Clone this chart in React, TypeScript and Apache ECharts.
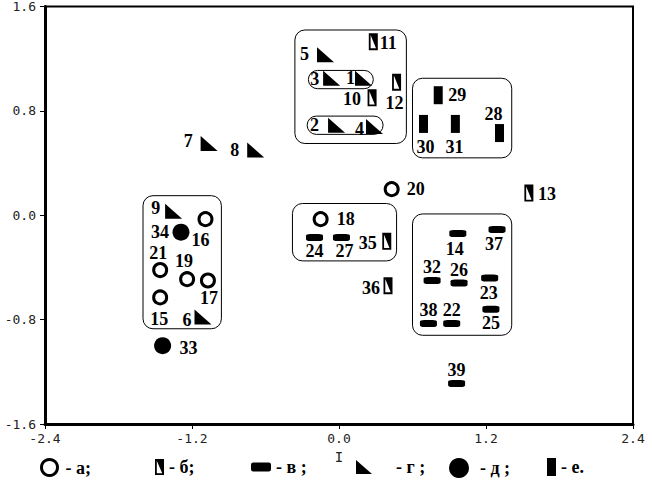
import React, { useEffect, useRef } from "react";
import * as echarts from "echarts";

// ---- data ----
// а : open circles
const A_IDS = ["16", "21", "19", "17", "15", "18", "20"];
const A_X = [-1.09, -1.46, -1.24, -1.07, -1.46, -0.15, 0.43];
const A_Y = [-0.03, -0.42, -0.49, -0.5, -0.63, -0.03, 0.2];
// б : half-filled rectangles
const B_IDS = ["11", "12", "10", "13", "35", "36"];
const B_X = [0.28, 0.47, 0.27, 1.55, 0.39, 0.4];
const B_Y = [1.33, 1.02, 0.9, 0.17, -0.2, -0.54];
// в : horizontal bars
const V_IDS = ["24", "27", "14", "37", "32", "26", "23", "38", "22", "25", "39"];
const V_X = [-0.2, 0.02, 0.97, 1.29, 0.76, 0.98, 1.23, 0.73, 0.92, 1.24, 0.96];
const V_Y = [-0.17, -0.17, -0.14, -0.11, -0.5, -0.52, -0.48, -0.83, -0.83, -0.72, -1.29];
// г : triangles
const G_IDS = ["5", "3", "1", "2", "4", "7", "8", "9", "6"];
const G_X = [-0.11, -0.06, 0.2, -0.02, 0.29, -1.06, -0.68, -1.35, -1.11];
const G_Y = [1.23, 1.05, 1.05, 0.69, 0.68, 0.55, 0.5, 0.03, -0.78];
// д : filled circles
const D_IDS = ["34", "33"];
const D_X = [-1.29, -1.44];
const D_Y = [-0.13, -1.0];
// е : vertical bars
const E_IDS = ["29", "30", "31", "28"];
const E_X = [0.81, 0.69, 0.95, 1.31];
const E_Y = [0.92, 0.7, 0.7, 0.63];

// grouping boxes (data coordinates)
const BOX_X0 = [-0.36, -0.25, -0.26, 0.6, -1.6, -0.38, 0.6];
const BOX_Y0 = [1.42, 1.11, 0.76, 1.05, 0.15, 0.09, 0.01];
const BOX_X1 = [0.55, 0.28, 0.36, 1.41, -0.96, 0.47, 1.41];
const BOX_Y1 = [0.55, 0.97, 0.62, 0.44, -0.87, -0.35, -0.92];

const X_TICKS = [-2.4, -1.2, 0.0, 1.2, 2.4];
const Y_TICKS = [-1.6, -0.8, 0.0, 0.8, 1.6];

// ---- styling ----
const LABEL_OFF: Record<string, [number, number]> = {
  "16": [-5, 21], "21": [-2, -17], "19": [-3, -18], "17": [1, 18], "15": [-1, 22],
  "18": [25, 0], "20": [24, 0],
  "34": [-21, 0], "33": [26, 2],
  "5": [-21, -1], "3": [-17, 1], "1": [-13, 0], "2": [-22, 0], "4": [-15, 2],
  "7": [-21, -2], "8": [-21, 0], "9": [-18, -3], "6": [-16, 3],
  "11": [15, 1], "12": [-2, 21], "10": [-20, 1], "13": [18, 1], "35": [-19, 2], "36": [-17, 2],
  "24": [0, 14], "27": [3, 14], "14": [-3, 15], "37": [-3, 14], "32": [0, -13], "26": [0, -13],
  "23": [-1, 15], "38": [0, -14], "22": [0, -14], "25": [0, 14], "39": [0, -14],
  "29": [19, 0], "30": [2, 23], "31": [-1, 23], "28": [-6, -19],
};

const SYM_B = "path://M0,0L10,0L10,18L0,18Z M2,2L2,16L8,16L8,2Z M2,2L8,2L8,16Z";
const SYM_G = "path://M0,0L0,15L17,15Z";

const SERIF = "'Liberation Serif', 'DejaVu Serif', serif";
const MONO = "'DejaVu Sans Mono', 'Liberation Mono', monospace";

function pts(ids: string[], xs: number[], ys: number[]) {
  return ids.map((id, i) => ({
    name: id,
    value: [xs[i], ys[i]],
    label: { offset: LABEL_OFF[id] || [0, 0] },
  }));
}

const pointLabel = {
  show: true,
  position: "inside",
  formatter: "{b}",
  color: "#000",
  fontFamily: SERIF,
  fontWeight: "bold",
  fontSize: 18,
};

function legendFor(
  name: string,
  icon: string,
  left: number,
  w: number,
  h: number,
  text: string,
  textPadLeft: number,
  itemStyle?: any
) {
  return {
    data: [{ name, icon }],
    left,
    top: 468 - 10,
    padding: 0,
    itemWidth: w,
    itemHeight: h,
    selectedMode: false,
    formatter: () => text,
    itemStyle: itemStyle || { color: "#000", borderWidth: 0 },
    textStyle: {
      fontFamily: SERIF,
      fontWeight: "bold",
      fontSize: 18,
      color: "#000",
      padding: [0, 0, 0, textPadLeft],
    },
  };
}

export default function App() {
  const ref = useRef<HTMLDivElement>(null);
  useEffect(() => {
    if (!ref.current) return;
    const chart = echarts.init(ref.current, null, { renderer: "svg" });
    const boxes = BOX_X0.map((x0, i) => [x0, BOX_Y0[i], BOX_X1[i], BOX_Y1[i]]);
    const option: any = {
      animation: false,
      backgroundColor: "#fff",
      grid: {
        left: 45,
        right: 19,
        top: 5,
        bottom: 62,
        show: true,
        borderColor: "#000",
        borderWidth: 2,
        backgroundColor: "transparent",
      },
      xAxis: {
        type: "value",
        min: X_TICKS[0],
        max: X_TICKS[X_TICKS.length - 1],
        interval: 1.2,
        name: "I",
        nameLocation: "middle",
        nameGap: 21,
        nameTextStyle: { fontFamily: MONO, fontSize: 14, color: "#222" },
        axisLine: { show: true, onZero: false, lineStyle: { color: "#000", width: 3 } },
        axisTick: { show: true, length: 5, lineStyle: { color: "#000", width: 1 } },
        axisLabel: {
          margin: 8,
          fontFamily: MONO,
          fontSize: 13,
          color: "#222",
          formatter: (v: number) => v.toFixed(1),
        },
        splitLine: { show: false },
      },
      yAxis: {
        type: "value",
        min: Y_TICKS[0],
        max: Y_TICKS[Y_TICKS.length - 1],
        interval: 0.8,
        axisLine: { show: true, onZero: false, lineStyle: { color: "#000", width: 3 } },
        axisTick: { show: true, length: 5, lineStyle: { color: "#000", width: 1 } },
        axisLabel: {
          margin: 9,
          fontFamily: MONO,
          fontSize: 13,
          color: "#222",
          formatter: (v: number) => v.toFixed(1),
        },
        splitLine: { show: false },
      },
      legend: [
        legendFor("а", "circle", 40, 16, 16, "- а;", 3, {
          color: "#fff",
          borderColor: "#000",
          borderWidth: 3,
        }),
        legendFor("б", SYM_B, 155, 9, 18, "- б;", 0),
        legendFor("в", "roundRect", 251, 20, 9, "- в ;", 0),
        legendFor("г", SYM_G, 356, 16, 15, "- г ;", 19),
        legendFor("д", "circle", 449, 20, 20, "- д ;", 6),
        legendFor("е", "rect", 547, 9, 18, "- е.", 0),
      ],
      series: [
        {
          type: "custom",
          silent: true,
          z: 1,
          data: boxes,
          encode: { x: [0, 2], y: [1, 3] },
          renderItem: (_p: any, api: any) => {
            const p0 = api.coord([api.value(0), api.value(1)]);
            const p1 = api.coord([api.value(2), api.value(3)]);
            return {
              type: "rect",
              shape: {
                x: p0[0],
                y: p0[1],
                width: p1[0] - p0[0],
                height: p1[1] - p0[1],
                r: 10,
              },
              style: { fill: "none", stroke: "#000", lineWidth: 1 },
            };
          },
        },
        {
          name: "а",
          type: "scatter",
          symbol: "circle",
          symbolSize: 13,
          itemStyle: { color: "#fff", borderColor: "#000", borderWidth: 3, opacity: 1 },
          label: pointLabel,
          data: pts(A_IDS, A_X, A_Y),
          z: 3,
        },
        {
          name: "б",
          type: "scatter",
          symbol: SYM_B,
          symbolSize: [9, 17],
          itemStyle: { color: "#000", opacity: 1 },
          label: pointLabel,
          data: pts(B_IDS, B_X, B_Y),
          z: 3,
        },
        {
          name: "в",
          type: "scatter",
          symbol: "roundRect",
          symbolSize: [17, 7],
          itemStyle: { color: "#000", opacity: 1 },
          label: pointLabel,
          data: pts(V_IDS, V_X, V_Y),
          z: 3,
        },
        {
          name: "г",
          type: "scatter",
          symbol: SYM_G,
          symbolSize: [17, 15],
          itemStyle: { color: "#000", opacity: 1 },
          label: pointLabel,
          data: pts(G_IDS, G_X, G_Y),
          z: 3,
        },
        {
          name: "д",
          type: "scatter",
          symbol: "circle",
          symbolSize: 17,
          itemStyle: { color: "#000", opacity: 1 },
          label: pointLabel,
          data: pts(D_IDS, D_X, D_Y),
          z: 3,
        },
        {
          name: "е",
          type: "scatter",
          symbol: "rect",
          symbolSize: [9, 18],
          itemStyle: { color: "#000", opacity: 1 },
          label: pointLabel,
          data: pts(E_IDS, E_X, E_Y),
          z: 3,
        },
      ],
    };
    chart.setOption(option);
    return () => chart.dispose();
  }, []);
  return <div ref={ref} style={{ width: 652, height: 486, position: "absolute", left: 0, top: 0 }} />;
}
